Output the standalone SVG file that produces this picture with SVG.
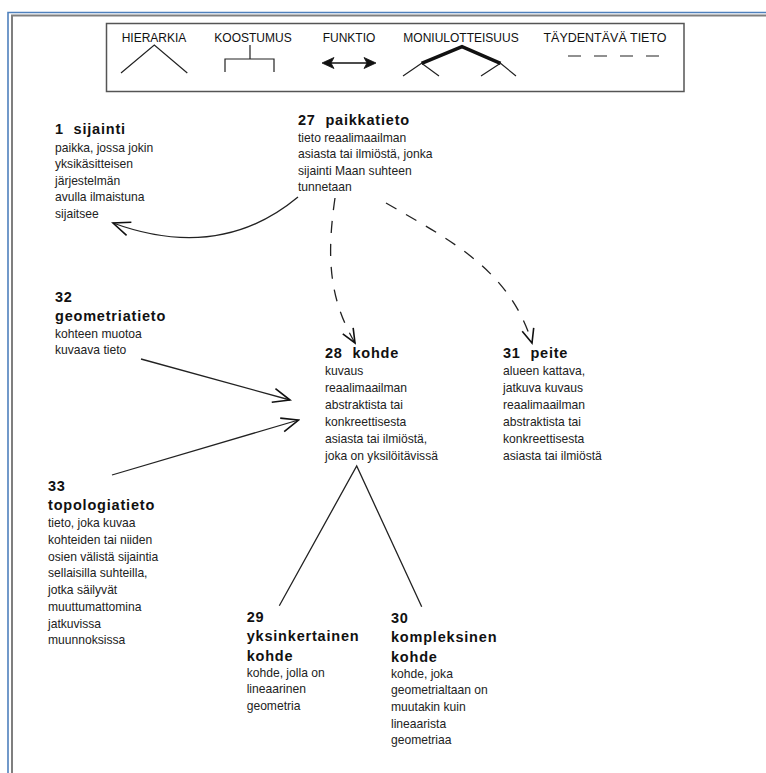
<svg xmlns="http://www.w3.org/2000/svg" width="766" height="773" viewBox="0 0 766 773">
<style>
.t{font-family:"Liberation Sans",Arial,sans-serif;font-size:14.5px;font-weight:bold;fill:#111;letter-spacing:0.8px}
.b{font-family:"Liberation Sans",Arial,sans-serif;font-size:12.1px;fill:#222}
.lg{font-family:"Liberation Sans",Arial,sans-serif;font-size:12px;fill:#111;text-anchor:middle}
.ln{fill:none;stroke:#222;stroke-width:1.3}
.dl{fill:none;stroke:#222;stroke-width:1.3;stroke-dasharray:12 11}
</style>
<defs>
<marker id="ah" markerUnits="userSpaceOnUse" viewBox="-19 -9 21 18" markerWidth="21" markerHeight="18" refX="0" refY="0" orient="auto">
<path d="M-17,-7 L0,0 L-17,7" fill="none" stroke="#111" stroke-width="1.6"/>
</marker>
<marker id="ahd" markerUnits="userSpaceOnUse" viewBox="-16 -8 18 16" markerWidth="18" markerHeight="16" refX="0" refY="0" orient="auto">
<path d="M-14,-6 L0,0 L-14,6" fill="none" stroke="#111" stroke-width="1.6"/>
</marker>
</defs>
<rect width="766" height="773" fill="#fff"/>
<g id="page-border">
<path d="M8,773 V12.5 H766" fill="none" stroke="#4f81bd" stroke-width="1.6"/>
<path d="M12,773 V15.5 H766" fill="none" stroke="#7f7f7f" stroke-width="2"/>
</g>
<g id="legend">
<rect x="106.5" y="23.5" width="577.5" height="68" fill="none" stroke="#555" stroke-width="1.5"/>
<text class="lg" x="154" y="41.5">HIERARKIA</text>
<text class="lg" x="253" y="41.5">KOOSTUMUS</text>
<text class="lg" x="349" y="41.5">FUNKTIO</text>
<text class="lg" x="461" y="41.5">MONIULOTTEISUUS</text>
<text class="lg" x="605" y="41.5" style="font-size:12.5px">TÄYDENTÄVÄ TIETO</text>
<path d="M121,73 L154.3,45 L187.3,73" fill="none" stroke="#222" stroke-width="1.2"/>
<path d="M250,45 V59 M225,72 V59 H274 V72" fill="none" stroke="#222" stroke-width="1.2"/>
<path d="M326,63 H372" fill="none" stroke="#111" stroke-width="1.4"/>
<path d="M322,63 L334,57.5 L331,63 L334,68.5 Z M376,63 L364,57.5 L367,63 L364,68.5 Z" fill="#111" stroke="#111" stroke-width="0.8"/>
<path d="M421.6,63.3 L462,46.7 L500.5,63.3" fill="none" stroke="#111" stroke-width="3.5" stroke-linejoin="miter"/>
<path d="M403,76 L421.6,63.3 L439,76 M481,76 L500.5,63.3 L516,76" fill="none" stroke="#222" stroke-width="1.2"/>
<path d="M568,56 H659" fill="none" stroke="#222" stroke-width="1.2" stroke-dasharray="13 13"/>
</g>
<g id="connectors">
<path class="ln" d="M298,197 Q220,262 113,223" marker-end="url(#ah)"/>
<path class="dl" d="M335,198 C326,260 330,300 355,343" marker-end="url(#ahd)"/>
<path class="dl" d="M386,203 C450,240 510,270 532,343" marker-end="url(#ahd)"/>
<path class="ln" d="M141,359 L290,400" marker-end="url(#ah)"/>
<path class="ln" d="M112,475 L298.5,420" marker-end="url(#ah)"/>
<path class="ln" d="M279.3,605.7 L356.7,466 L421.7,606.7"/>
</g>
<g id="n1">
<text class="t" x="55" y="134">1 &#160;sijainti</text>
<text class="b" x="55" y="151.5">paikka, jossa jokin</text>
<text class="b" x="55" y="168">yksikäsitteisen</text>
<text class="b" x="55" y="184.5">järjestelmän</text>
<text class="b" x="55" y="201">avulla ilmaistuna</text>
<text class="b" x="55" y="217.5">sijaitsee</text>
</g>
<g id="n27">
<text class="t" x="298" y="125">27 &#160;paikkatieto</text>
<text class="b" x="298" y="141.7">tieto reaalimaailman</text>
<text class="b" x="298" y="158.1">asiasta tai ilmiöstä, jonka</text>
<text class="b" x="298" y="174.5">sijainti Maan suhteen</text>
<text class="b" x="298" y="190.9">tunnetaan</text>
</g>
<g id="n32">
<text class="t" x="55" y="301.7">32</text>
<text class="t" x="55" y="320.7">geometriatieto</text>
<text class="b" x="55" y="337.5">kohteen muotoa</text>
<text class="b" x="55" y="354.2">kuvaava tieto</text>
</g>
<g id="n28">
<text class="t" x="325" y="357.5">28 &#160;kohde</text>
<text class="b" x="325" y="375">kuvaus</text>
<text class="b" x="325" y="392">reaalimaailman</text>
<text class="b" x="325" y="409">abstraktista tai</text>
<text class="b" x="325" y="426">konkreettisesta</text>
<text class="b" x="325" y="443">asiasta tai ilmiöstä,</text>
<text class="b" x="325" y="460">joka on yksilöitävissä</text>
</g>
<g id="n31">
<text class="t" x="503" y="357.5">31 &#160;peite</text>
<text class="b" x="503" y="375">alueen kattava,</text>
<text class="b" x="503" y="392">jatkuva kuvaus</text>
<text class="b" x="503" y="409">reaalimaailman</text>
<text class="b" x="503" y="426">abstraktista tai</text>
<text class="b" x="503" y="443">konkreettisesta</text>
<text class="b" x="503" y="460">asiasta tai ilmiöstä</text>
</g>
<g id="n33">
<text class="t" x="48" y="490.7">33</text>
<text class="t" x="48" y="510">topologiatieto</text>
<text class="b" x="48" y="527.3">tieto, joka kuvaa</text>
<text class="b" x="48" y="544">kohteiden tai niiden</text>
<text class="b" x="48" y="560.7">osien välistä sijaintia</text>
<text class="b" x="48" y="577.4">sellaisilla suhteilla,</text>
<text class="b" x="48" y="594.1">jotka säilyvät</text>
<text class="b" x="48" y="610.8">muuttumattomina</text>
<text class="b" x="48" y="627.5">jatkuvissa</text>
<text class="b" x="48" y="644.2">muunnoksissa</text>
</g>
<g id="n29">
<text class="t" x="246.7" y="621.7">29</text>
<text class="t" x="246.7" y="640.7">yksinkertainen</text>
<text class="t" x="246.7" y="660.5">kohde</text>
<text class="b" x="246.7" y="676.7">kohde, jolla on</text>
<text class="b" x="246.7" y="693.2">lineaarinen</text>
<text class="b" x="246.7" y="709.7">geometria</text>
</g>
<g id="n30">
<text class="t" x="391" y="622.7">30</text>
<text class="t" x="391" y="641.7">kompleksinen</text>
<text class="t" x="391" y="661.5">kohde</text>
<text class="b" x="391" y="677.5">kohde, joka</text>
<text class="b" x="391" y="694.2">geometrialtaan on</text>
<text class="b" x="391" y="710.9">muutakin kuin</text>
<text class="b" x="391" y="727.6">lineaarista</text>
<text class="b" x="391" y="744.3">geometriaa</text>
</g>
</svg>
